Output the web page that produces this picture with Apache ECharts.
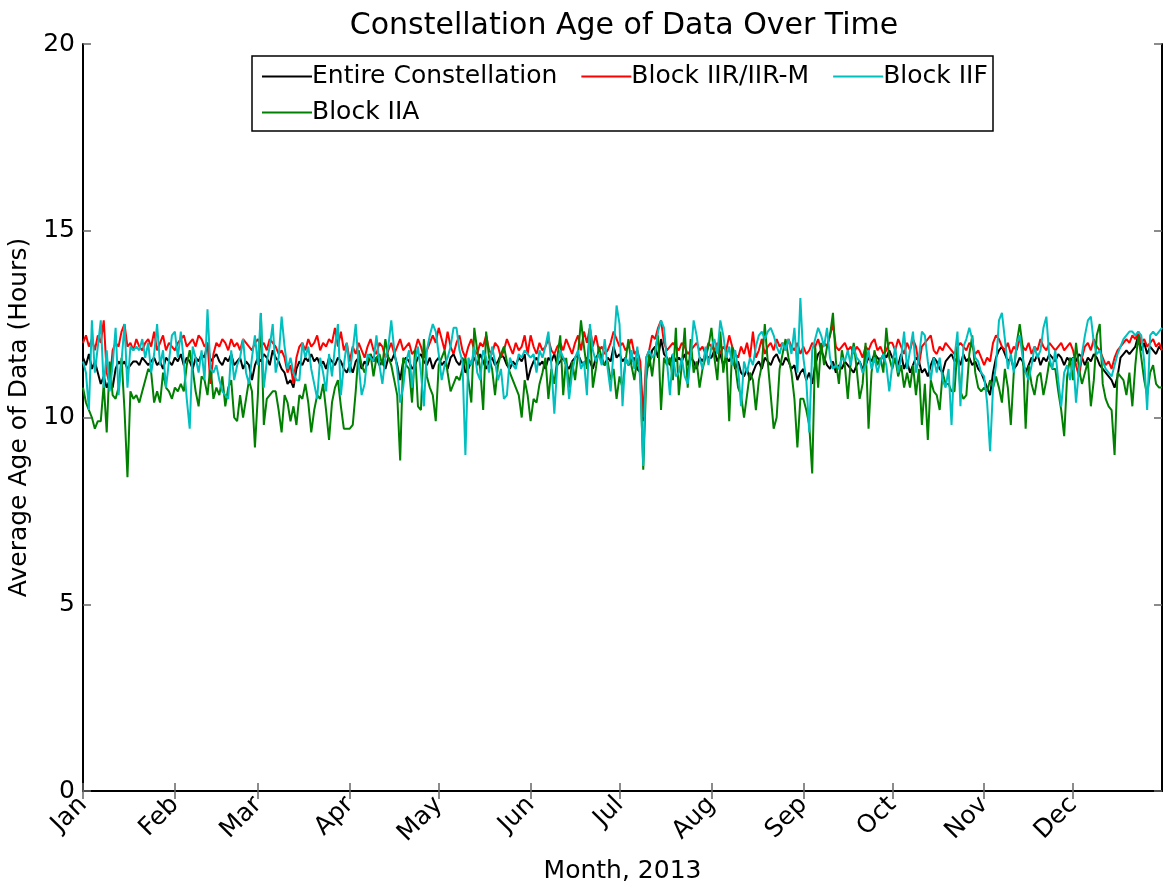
<!DOCTYPE html>
<html>
<head>
<meta charset="utf-8">
<title>Constellation Age of Data Over Time</title>
<script src="https://cdn.jsdelivr.net/npm/echarts@6/dist/echarts.min.js"></script>
<style>
  html, body { margin: 0; padding: 0; background: #fff; }
  #main { width: 1164px; height: 884px; }
</style>
</head>
<body>
<div id="main"></div>
<script>
var monthNames = ['Jan', 'Feb', 'Mar', 'Apr', 'May', 'Jun', 'Jul', 'Aug', 'Sep', 'Oct', 'Nov', 'Dec'];
var monthDays = [31, 28, 31, 30, 31, 30, 31, 31, 30, 31, 30, 31];
var yTicks = [0, 5, 10, 15, 20];

// daily average age of data (hours), 2013, one row per month
var entireConstellation = [
  11.6, 11.4, 11.7, 11.3, 11.5, 11.2, 10.9, 11.1, 10.8, 11.0, 10.8, 11.3, 11.5, 11.4, 11.5, 11.3, 11.4, 11.5, 11.5, 11.4, 11.6, 11.5, 11.4, 11.5, 11.6, 11.4, 11.5, 11.3, 11.6, 11.5, 11.4,
  11.6, 11.5, 11.7, 11.4, 11.6, 11.5, 11.3, 11.6, 11.5, 11.7, 11.6, 12.0, 11.5, 11.6, 11.7, 11.5, 11.4, 11.6, 11.5, 11.7, 11.4, 11.5, 11.6, 11.3, 11.5, 11.4, 11.0, 11.4,
  11.6, 11.5, 11.7, 11.6, 11.4, 11.8, 11.6, 11.5, 11.3, 11.2, 10.9, 11.0, 10.8, 11.3, 11.5, 11.4, 11.6, 11.5, 11.7, 11.5, 11.6, 11.4, 11.5, 11.3, 11.6, 11.5, 11.4, 11.6, 11.5, 11.3, 11.2,
  11.4, 11.2, 11.5, 11.6, 11.3, 11.5, 11.4, 11.7, 11.5, 11.6, 11.4, 11.5, 11.3, 11.6, 11.5, 11.7, 11.4, 11.0, 11.5, 11.6, 11.5, 11.3, 11.4, 11.6, 11.7, 11.5, 11.4, 11.6, 11.3, 11.5,
  11.6, 11.4, 11.5, 11.3, 11.6, 11.7, 11.5, 11.4, 11.6, 11.2, 11.3, 11.5, 11.6, 11.4, 11.7, 11.5, 11.3, 11.5, 11.6, 11.4, 11.5, 11.7, 11.6, 11.4, 11.3, 11.5, 11.4, 11.6, 11.5, 11.7, 11.0,
  11.3, 11.5, 11.6, 11.4, 11.5, 11.3, 11.6, 11.5, 11.7, 11.4, 11.5, 11.6, 11.4, 11.3, 11.5, 11.6, 11.7, 11.5, 11.4, 11.6, 11.5, 11.3, 11.6, 11.7, 11.5, 11.4, 11.6, 11.5, 11.9, 11.6,
  11.7, 11.5, 11.6, 11.4, 11.5, 11.6, 11.3, 11.2, 9.9, 11.3, 11.4, 11.8, 11.9, 11.6, 12.1, 11.7, 11.6, 11.4, 11.7, 11.5, 11.6, 11.5, 11.7, 11.4, 11.6, 11.5, 11.3, 11.6, 11.5, 11.7, 11.6,
  11.6, 11.8, 11.5, 11.7, 11.4, 11.6, 11.5, 11.7, 11.3, 11.5, 11.2, 11.1, 11.3, 11.0, 11.2, 11.4, 11.5, 11.3, 11.6, 11.5, 11.4, 11.6, 11.7, 11.5, 11.4, 11.6, 11.5, 11.3, 11.4, 11.0, 11.2,
  11.3, 11.0, 11.2, 10.9, 11.4, 11.7, 11.8, 11.6, 11.4, 11.3, 11.5, 11.2, 11.4, 11.3, 11.5, 11.4, 11.3, 11.2, 11.4, 11.5, 11.3, 11.4, 11.6, 11.5, 11.7, 11.6, 11.5, 11.7, 11.6, 11.8,
  11.6, 11.5, 11.4, 11.7, 11.3, 11.5, 11.2, 11.4, 11.6, 11.5, 11.2, 11.3, 11.1, 11.4, 11.6, 11.5, 11.3, 11.2, 11.5, 11.6, 11.7, 11.5, 11.6, 11.4, 11.7, 11.5, 11.6, 11.4, 11.5, 11.3, 11.2,
  11.0, 10.8, 10.6, 11.2, 11.6, 11.8, 11.9, 11.7, 11.5, 11.6, 11.3, 11.4, 11.6, 11.5, 11.2, 11.4, 11.6, 11.5, 11.7, 11.4, 11.6, 11.5, 11.7, 11.6, 11.5, 11.7, 11.6, 11.4, 11.6, 11.5,
  11.6, 11.5, 11.7, 11.6, 11.4, 11.6, 11.5, 11.7, 11.6, 11.4, 11.3, 11.2, 11.1, 11.0, 10.8, 11.1, 11.6, 11.7, 11.8, 11.7, 11.8, 11.9, 12.2, 11.8, 12.0, 11.7, 11.9, 11.8, 11.7, 11.9, 11.8
];

var blockIIR = [
  12.0, 12.2, 11.9, 12.1, 11.8, 12.2, 12.0, 12.6, 11.2, 10.9, 11.8, 12.0, 11.9, 12.3, 12.5, 11.9, 12.0, 11.8, 12.1, 11.9, 11.8, 12.0, 12.1, 11.9, 12.3, 11.8, 12.0, 12.2, 11.8, 12.0, 11.9,
  11.8, 12.0, 12.1, 12.2, 11.9, 12.0, 12.1, 11.9, 12.2, 12.1, 11.9, 12.0, 10.9, 11.7, 12.0, 11.9, 12.1, 12.0, 11.8, 12.1, 11.9, 12.0, 11.8, 12.1, 12.0, 11.9, 11.8, 12.0,
  12.1, 11.9, 12.0, 11.8, 12.1, 12.0, 11.9, 11.7, 11.8, 11.6, 11.2, 11.4, 10.9, 11.6, 11.9, 12.0, 11.8, 12.1, 11.9, 12.0, 12.2, 11.8, 12.0, 11.9, 12.1, 12.0, 12.4, 11.9, 12.3, 11.8, 12.0,
  11.5, 11.9, 11.7, 12.0, 11.8, 11.6, 11.9, 12.1, 11.8, 11.7, 12.0, 11.9, 11.6, 11.8, 12.0, 11.7, 11.9, 12.1, 11.8, 11.9, 12.0, 11.7, 11.8, 12.1, 11.9, 11.6, 11.8, 12.0, 12.2, 12.0,
  12.4, 12.1, 11.8, 12.3, 11.9, 11.7, 12.0, 12.2, 11.8, 11.6, 11.9, 12.1, 11.8, 11.7, 12.0, 11.9, 12.2, 11.8, 11.7, 12.0, 11.9, 11.6, 11.8, 12.1, 11.9, 11.7, 12.0, 11.8, 11.9, 12.2, 11.7,
  12.2, 11.9, 11.7, 12.0, 11.8, 11.9, 12.1, 11.8, 11.7, 11.9, 12.0, 11.8, 12.1, 11.9, 11.7, 12.0, 12.2, 11.8, 12.3, 12.0, 12.4, 11.9, 12.2, 11.8, 11.9, 11.7, 11.8, 12.0, 12.3, 12.1,
  11.9, 12.0, 11.8, 11.9, 12.1, 11.7, 11.8, 11.5, 10.0, 11.6, 11.8, 12.2, 12.1, 12.4, 12.6, 12.0, 11.8, 11.9, 12.0, 11.9, 11.8, 12.0, 11.9, 11.7, 11.8, 11.9, 12.0, 11.8, 11.9, 11.7, 12.0,
  11.9, 11.8, 12.0, 11.7, 11.9, 11.8, 12.2, 11.9, 11.7, 11.6, 11.9, 11.7, 12.0, 11.6, 12.3, 11.6, 11.8, 12.1, 11.7, 11.9, 12.0, 11.8, 12.1, 11.9, 12.0, 11.8, 12.1, 11.9, 11.8, 12.0, 11.7,
  11.9, 11.7, 11.8, 12.0, 11.9, 12.1, 11.8, 12.0, 11.9, 12.2, 12.5, 11.9, 11.8, 11.9, 12.0, 11.8, 11.9, 11.7, 11.9, 11.8, 11.6, 11.9, 11.8, 12.0, 12.1, 11.8, 11.9, 11.7, 11.8, 12.0,
  12.0, 11.8, 12.1, 11.9, 11.7, 12.0, 11.8, 12.1, 11.9, 11.4, 11.9, 12.0, 12.1, 12.2, 11.8, 11.7, 11.9, 11.8, 12.0, 11.9, 11.8, 11.7, 11.9, 12.0, 11.9, 11.8, 12.0, 11.9, 11.7, 11.8, 11.6,
  11.4, 11.6, 11.5, 12.0, 12.2, 12.1, 11.9, 11.8, 12.0, 11.7, 11.9, 11.8, 12.1, 11.9, 11.8, 12.0, 11.7, 11.9, 11.8, 12.1, 11.9, 11.8, 12.0, 11.9, 11.8, 11.9, 12.0, 11.8, 11.9, 12.0,
  11.8, 11.4, 11.1, 11.6, 11.9, 12.0, 11.8, 12.1, 11.9, 11.8, 11.6, 11.4, 11.5, 11.3, 11.6, 11.8, 11.9, 12.0, 12.1, 12.0, 12.2, 12.1, 12.3, 12.0, 12.1, 11.9, 12.0, 12.1, 11.9, 12.0, 11.8
];

var blockIIF = [
  11.5, 11.2, 10.2, 12.6, 11.2, 11.9, 12.6, 10.8, 11.8, 10.7, 11.4, 12.4, 10.6, 11.5, 12.5, 10.8, 11.9, 11.8, 11.9, 11.8, 12.1, 11.6, 12.0, 11.2, 11.7, 12.5, 11.4, 11.8, 10.8, 11.5, 12.2,
  12.3, 11.6, 12.3, 11.5, 10.5, 9.7, 11.9, 11.6, 11.2, 11.8, 11.0, 12.9, 11.3, 11.2, 11.4, 11.0, 10.7, 10.6, 10.5, 11.8, 11.0, 11.4, 11.6, 12.1, 11.2, 10.9, 11.6, 12.2,
  11.4, 12.8, 10.8, 11.5, 11.9, 12.5, 11.2, 11.6, 12.7, 11.9, 11.3, 11.6, 11.2, 11.0, 11.0, 12.0, 11.6, 11.9, 11.3, 10.9, 10.5, 11.6, 11.2, 10.7, 11.7, 11.1, 11.9, 12.5, 10.6, 11.4, 12.0,
  11.2, 11.8, 12.5, 11.4, 10.6, 10.9, 11.7, 11.6, 11.5, 12.2, 11.4, 10.9, 11.6, 11.9, 12.6, 11.8, 11.3, 10.4, 10.8, 11.5, 11.8, 10.8, 11.5, 11.9, 11.2, 10.3, 11.8, 12.2, 12.5, 12.3,
  11.7, 11.0, 11.4, 11.6, 11.9, 12.4, 12.4, 11.8, 11.5, 9.0, 11.6, 11.4, 11.9, 11.2, 11.0, 11.8, 11.6, 11.2, 11.9, 11.5, 11.0, 11.3, 10.5, 10.6, 11.6, 11.4, 11.3, 11.7, 11.6, 11.8, 11.7,
  11.6, 11.7, 11.2, 11.8, 11.6, 11.9, 12.3, 11.4, 10.1, 11.4, 11.8, 11.6, 11.4, 10.5, 11.2, 11.6, 11.8, 11.3, 11.5, 10.6, 12.5, 11.8, 11.5, 11.7, 11.4, 12.1, 11.3, 10.7, 11.8, 13.0,
  12.5, 10.3, 11.6, 11.4, 11.8, 11.3, 11.9, 11.0, 8.7, 11.6, 11.8, 11.6, 11.7, 12.3, 12.6, 12.4, 11.5, 10.6, 11.7, 11.1, 11.2, 11.6, 11.1, 10.9, 11.6, 12.6, 12.2, 11.6, 11.3, 11.9, 11.4,
  11.9, 12.1, 11.7, 12.6, 12.2, 11.6, 11.9, 11.4, 11.8, 11.3, 10.3, 11.5, 11.2, 11.6, 11.4, 11.9, 12.2, 12.3, 12.1, 12.3, 12.4, 12.2, 11.9, 11.7, 12.0, 11.8, 12.1, 11.7, 12.4, 11.2, 13.2,
  11.6, 11.0, 9.6, 11.8, 12.1, 12.4, 12.2, 11.9, 12.4, 11.6, 11.3, 11.4, 11.3, 11.6, 11.5, 11.8, 11.4, 11.9, 11.6, 11.5, 11.2, 11.4, 11.8, 11.3, 11.6, 11.2, 11.5, 11.7, 11.4, 10.7,
  11.4, 11.9, 11.2, 11.6, 12.3, 11.3, 11.8, 12.3, 11.2, 11.6, 12.3, 12.2, 11.5, 11.0, 11.6, 11.2, 11.6, 11.0, 10.8, 11.3, 9.8, 11.6, 12.3, 10.3, 11.9, 12.1, 12.4, 12.1, 11.6, 11.5, 11.2,
  11.1, 10.4, 9.1, 10.8, 11.4, 12.6, 12.8, 12.1, 11.3, 11.7, 11.2, 12.0, 12.2, 11.6, 11.2, 11.0, 11.4, 11.9, 11.6, 11.8, 12.4, 12.7, 11.6, 11.3, 11.8, 11.0, 10.3, 11.2, 11.4, 11.0,
  11.6, 10.4, 11.3, 11.7, 12.2, 12.6, 12.7, 12.0, 11.7, 11.8, 11.5, 11.3, 11.2, 11.1, 11.4, 11.7, 11.9, 12.1, 12.2, 12.3, 12.3, 12.2, 12.3, 12.2, 11.5, 10.2, 12.2, 12.3, 12.2, 12.3, 12.4
];

var blockIIA = [
  10.8, 10.4, 10.2, 10.0, 9.7, 9.9, 9.9, 10.9, 9.6, 11.5, 10.6, 10.5, 10.8, 11.6, 10.2, 8.4, 10.7, 10.5, 10.6, 10.4, 10.7, 11.0, 11.3, 11.2, 10.4, 10.7, 10.4, 11.2, 10.8, 10.7, 10.5,
  10.8, 10.7, 10.9, 10.7, 11.4, 11.8, 11.3, 10.7, 10.3, 11.1, 11.0, 10.6, 11.4, 10.5, 10.8, 10.6, 11.1, 10.3, 10.8, 11.0, 10.0, 9.9, 10.6, 10.0, 10.5, 11.0, 10.7, 9.2,
  10.6, 12.8, 9.8, 10.5, 10.6, 10.7, 10.7, 10.2, 9.6, 10.6, 10.4, 9.9, 10.3, 9.8, 10.6, 10.5, 10.9, 10.4, 9.6, 10.2, 10.6, 10.5, 10.9, 10.2, 9.4, 10.4, 10.8, 11.0, 10.3, 9.7, 9.7,
  9.7, 9.8, 10.7, 11.8, 11.4, 11.2, 11.5, 11.7, 11.1, 11.6, 11.7, 11.4, 12.1, 11.6, 11.4, 11.0, 10.6, 8.85, 11.6, 11.4, 11.3, 10.4, 11.8, 10.3, 10.2, 12.1, 11.1, 10.8, 10.6, 9.9,
  11.4, 11.6, 11.8, 11.2, 10.7, 10.9, 11.1, 11.0, 11.3, 11.6, 11.0, 10.4, 12.4, 11.8, 11.3, 10.2, 12.3, 11.6, 11.3, 10.6, 11.4, 11.7, 11.9, 11.5, 11.2, 11.0, 10.8, 10.6, 10.0, 11.0, 10.6,
  9.9, 10.5, 10.4, 10.9, 11.2, 11.6, 10.5, 11.3, 10.9, 11.6, 12.2, 10.6, 11.6, 10.8, 11.5, 11.0, 11.7, 12.6, 11.9, 11.3, 12.4, 10.8, 11.3, 11.9, 11.6, 11.4, 11.5, 11.0, 11.3, 10.5,
  11.1, 10.8, 11.5, 12.1, 11.4, 11.0, 11.6, 11.2, 8.6, 11.0, 11.7, 11.1, 11.8, 12.2, 10.2, 11.6, 11.4, 11.6, 11.0, 12.4, 10.6, 11.4, 12.4, 10.8, 12.1, 11.2, 11.5, 10.8, 11.3, 11.6, 11.9,
  12.4, 11.6, 11.0, 12.3, 11.2, 11.8, 9.9, 11.9, 11.4, 10.8, 10.6, 10.0, 10.6, 11.2, 11.0, 10.2, 11.0, 11.4, 12.5, 11.5, 10.6, 9.7, 10.0, 11.3, 11.7, 12.1, 11.6, 11.2, 10.5, 9.2, 10.5,
  10.5, 10.2, 9.8, 8.5, 11.9, 10.8, 12.0, 11.4, 11.9, 12.2, 12.8, 11.5, 10.9, 11.8, 11.4, 10.5, 11.5, 12.0, 11.3, 10.5, 10.9, 12.0, 9.7, 11.2, 11.8, 11.4, 11.6, 11.2, 12.4, 11.6,
  11.3, 11.6, 11.1, 11.4, 10.8, 11.2, 10.8, 11.4, 10.6, 11.3, 9.8, 10.9, 9.4, 11.0, 10.7, 10.6, 10.2, 11.2, 10.9, 10.9, 10.7, 10.7, 11.9, 10.7, 10.5, 10.6, 11.7, 12.2, 11.2, 10.8, 10.7,
  10.8, 10.7, 11.0, 10.8, 11.1, 10.8, 10.4, 11.3, 10.8, 9.8, 11.2, 12.0, 12.5, 11.9, 9.7, 11.4, 10.9, 10.6, 11.1, 11.2, 10.6, 11.0, 11.5, 11.3, 11.3, 10.7, 10.2, 9.5, 11.1, 11.6,
  11.0, 12.0, 11.3, 10.9, 11.2, 11.5, 10.3, 11.0, 12.2, 12.5, 10.9, 10.5, 10.3, 10.2, 9.0, 11.2, 11.1, 11.0, 10.6, 11.2, 10.3, 11.4, 12.2, 11.6, 11.0, 10.6, 11.2, 11.4, 10.9, 10.8, 10.8
];

// one category per day, 'Jan 1' ... 'Dec 31'
var days = [];
for (var m = 0; m < 12; m++) {
    for (var d = 1; d <= monthDays[m]; d++) {
        days.push(monthNames[m] + ' ' + d);
    }
}
function isMonthStart(index, value) {
    return /\s1$/.test(value);
}

var font = 'DejaVu Sans';
var myChart = echarts.init(document.getElementById('main'));

var legendText = { fontFamily: font, fontSize: 25, color: '#000', padding: [0, 0, 0, -5] };

var option = {
    animation: false,
    backgroundColor: '#fff',
    textStyle: { fontFamily: font, color: '#000' },
    title: {
        text: 'Constellation Age of Data Over Time',
        left: 619,
        textAlign: 'center',
        top: 6,
        textStyle: { fontFamily: font, fontSize: 30, fontWeight: 'normal', color: '#000' }
    },
    grid: { left: 83, right: 2, top: 44, bottom: 93, containLabel: false, outerBoundsMode: 'none' },
    legend: [{
        left: 262,
        top: 64,
        padding: 0,
        icon: 'rect',
        itemWidth: 50,
        itemHeight: 2,
        itemGap: 24,
        textStyle: legendText,
        data: ['Entire Constellation', 'Block IIR/IIR-M', 'Block IIF']
    }, {
        left: 262,
        top: 100,
        padding: 0,
        icon: 'rect',
        itemWidth: 50,
        itemHeight: 2,
        textStyle: legendText,
        data: ['Block IIA']
    }],
    graphic: [{
        type: 'rect',
        z: 3,
        shape: { x: 252, y: 56, width: 741, height: 75 },
        style: { fill: '#fff', stroke: '#000', lineWidth: 1.5 }
    }],
    xAxis: [{
        type: 'category',
        data: days,
        boundaryGap: false,
        name: 'Month, 2013',
        nameLocation: 'middle',
        nameGap: 68,
        nameTextStyle: { fontFamily: font, fontSize: 25, color: '#000' },
        axisLine: { lineStyle: { color: '#000', width: 2 } },
        axisTick: { inside: true, length: 8, interval: isMonthStart, lineStyle: { color: '#666', width: 1.5 } },
        axisLabel: {
            interval: isMonthStart,
            rotate: 45,
            margin: 10,
            fontFamily: font,
            fontSize: 25,
            color: '#000',
            formatter: function (value) { return /\s1$/.test(value) ? value.split(' ')[0] : ''; }
        },
        splitLine: { show: false }
    }, {
        type: 'category',
        data: days,
        boundaryGap: false,
        position: 'top',
        axisLine: { lineStyle: { color: '#000', width: 2 } },
        axisTick: { inside: true, length: 8, interval: isMonthStart, lineStyle: { color: '#666', width: 1.5 } },
        axisLabel: { show: false },
        splitLine: { show: false }
    }],
    yAxis: [{
        type: 'value',
        min: yTicks[0],
        max: yTicks[yTicks.length - 1],
        interval: 5,
        name: 'Average Age of Data (Hours)',
        nameLocation: 'middle',
        nameGap: 48,
        nameTextStyle: { fontFamily: font, fontSize: 25, color: '#000' },
        axisLine: { show: true, lineStyle: { color: '#000', width: 2 } },
        axisTick: { show: true, inside: true, length: 8, lineStyle: { color: '#666', width: 1.5 } },
        axisLabel: { margin: 8, fontFamily: font, fontSize: 25, color: '#000' },
        splitLine: { show: false }
    }, {
        type: 'value',
        min: yTicks[0],
        max: yTicks[yTicks.length - 1],
        interval: 5,
        position: 'right',
        axisLine: { show: true, lineStyle: { color: '#000', width: 2 } },
        axisTick: { show: true, inside: true, length: 8, lineStyle: { color: '#666', width: 1.5 } },
        axisLabel: { show: false },
        splitLine: { show: false }
    }],
    series: [{
        name: 'Entire Constellation',
        type: 'line',
        data: entireConstellation,
        symbol: 'none',
        lineStyle: { color: '#000000', width: 2 },
        itemStyle: { color: '#000000' }
    }, {
        name: 'Block IIR/IIR-M',
        type: 'line',
        data: blockIIR,
        symbol: 'none',
        lineStyle: { color: '#ff0000', width: 2 },
        itemStyle: { color: '#ff0000' }
    }, {
        name: 'Block IIA',
        type: 'line',
        data: blockIIA,
        symbol: 'none',
        lineStyle: { color: '#008000', width: 2 },
        itemStyle: { color: '#008000' }
    }, {
        name: 'Block IIF',
        type: 'line',
        data: blockIIF,
        symbol: 'none',
        lineStyle: { color: '#00bfbf', width: 2 },
        itemStyle: { color: '#00bfbf' }
    }]
};
myChart.setOption(option);
</script>
</body>
</html>
